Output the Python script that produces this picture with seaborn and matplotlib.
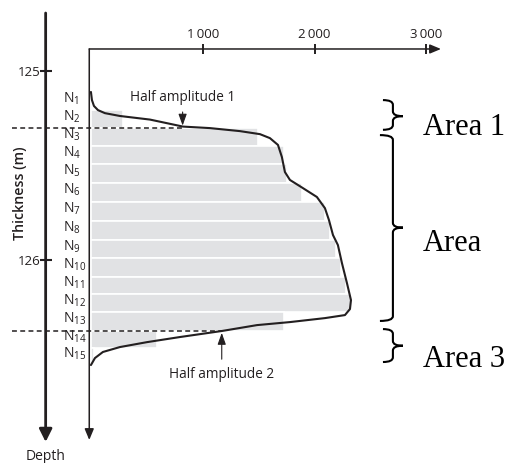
import matplotlib
matplotlib.use("Agg")
import matplotlib.pyplot as plt
from matplotlib.path import Path
from matplotlib.patches import PathPatch
import numpy as np
import seaborn as sns

# layers N1..N15: boundaries in depth (m) and bar amplitude
layer_labels = ["N$_{1}$", "N$_{2}$", "N$_{3}$", "N$_{4}$", "N$_{5}$", "N$_{6}$", "N$_{7}$", "N$_{8}$",
                "N$_{9}$", "N$_{10}$", "N$_{11}$", "N$_{12}$", "N$_{13}$", "N$_{14}$", "N$_{15}$"]
layer_edges = [125.11, 125.208, 125.303, 125.398, 125.493, 125.593, 125.694, 125.794,
               125.894, 125.989, 126.09, 126.18, 126.275, 126.375, 126.465, 126.555]
layer_amp = [10, 290, 1490, 1730, 1750, 1890, 2090, 2140, 2190, 2240, 2280, 2330, 1730, 590, 30]

# smooth amplitude envelope
curve_amp = [0, 9, 27, 63, 125, 259, 528, 823, 1064, 1333, 1512, 1601, 1673, 1708, 1735, 1780,
             1896, 2021, 2093, 2129, 2165, 2209, 2245, 2290, 2326, 2317, 2272, 2093, 1780, 1485,
             1172, 796, 501, 259, 107, 36, 0]
curve_depth = [125.112, 125.155, 125.186, 125.208, 125.224, 125.239, 125.258, 125.295, 125.303,
               125.319, 125.335, 125.356, 125.392, 125.456, 125.535, 125.577, 125.620, 125.667,
               125.726, 125.789, 125.868, 125.921, 126.016, 126.122, 126.212, 126.259, 126.291,
               126.307, 126.328, 126.344, 126.375, 126.407, 126.434, 126.460, 126.486, 126.518,
               126.555]

amp_ticks = [1000, 2000, 3000]
amp_tick_labels = ["1\u2009000", "2\u2009000", "3\u2009000"]
depth_ticks = [125, 126]

half_amp_labels = ["Half amplitude 1", "Half amplitude 2"]
half_amp_x = [820, 1170]
half_amp_depth = [125.303, 126.375]
half_amp_tip = [125.29, 126.385]
half_amp_text = [125.139, 126.603]

area_labels = ["Area 1", "Area", "Area 3"]
area_top = [125.155, 125.340, 126.365]
area_bottom = [125.312, 126.322, 126.539]
area_mid = [125.240, 125.829, 126.453]
area_baseline = [125.340, 125.952, 126.565]

INK = "#231f20"
GRAY = "#e1e2e4"

sns.set_style("white")
plt.rcParams["font.family"] = ["Open Sans", "DejaVu Sans"]
plt.rcParams["mathtext.default"] = "regular"

fig = plt.figure(figsize=(5.13, 4.63), dpi=100)
ax = fig.add_axes([0.174, 0.0497, 0.6856, 0.8445])

# bars
ax.barh(layer_edges[:-1], layer_amp, height=np.diff(layer_edges), align="edge",
        color=GRAY, edgecolor="white", linewidth=1.2, zorder=1)

# envelope curve
sns.lineplot(x=curve_amp, y=curve_depth, sort=False, estimator=None, ax=ax,
             color=INK, linewidth=1.5, zorder=3)

ax.set_xlim(-15, 3131)
ax.set_ylim(126.951, 124.885)
ax.set_xlabel("")
ax.set_ylabel("")

for s in ax.spines.values():
    s.set_visible(False)

# top amplitude axis
ax.xaxis.tick_top()
ax.set_xticks(amp_ticks)
ax.set_xticklabels(amp_tick_labels)
ax.tick_params(axis="x", top=True, bottom=False, direction="inout", length=7, width=1.4, pad=2,
               labelsize=9.5, color=INK, labelcolor=INK)

# outer depth axis
ax.spines["left"].set_position(("axes", -0.124))
ax.set_yticks(depth_ticks)
ax.set_yticklabels([str(t) for t in depth_ticks])
ax.tick_params(axis="y", left=True, right=False, direction="inout", length=8, width=1.5, pad=0,
               labelsize=9.5, color=INK, labelcolor=INK)

head = "-|>,head_length=0.6,head_width=0.25"
ax.annotate("", xy=(1, 1), xytext=(0, 1), xycoords="axes fraction",
            arrowprops=dict(arrowstyle=head, color=INK, lw=1.1, shrinkA=0, shrinkB=0,
                            mutation_scale=11), zorder=5)
ax.annotate("", xy=(0, 0), xytext=(0, 1), xycoords="axes fraction",
            arrowprops=dict(arrowstyle=head, color=INK, lw=1.1, shrinkA=0, shrinkB=0,
                            mutation_scale=11), zorder=5)
ax.annotate("", xy=(-0.124, -0.005), xytext=(-0.124, 1.092), xycoords="axes fraction",
            arrowprops=dict(arrowstyle="-|>,head_length=0.7,head_width=0.35", color=INK,
                            lw=2.0, shrinkA=0, shrinkB=0, mutation_scale=11),
            annotation_clip=False, zorder=5)

# layer labels
tr = ax.get_yaxis_transform()
for lab, top, bot in zip(layer_labels, layer_edges[:-1], layer_edges[1:]):
    ax.text(-0.0748, (top + bot) / 2 - 0.012, lab, transform=tr, ha="left", va="center",
            fontsize=10, color=INK)

# half amplitude lines and arrows
for lab, x, d, tip, txt in zip(half_amp_labels, half_amp_x, half_amp_depth, half_amp_tip, half_amp_text):
    ax.plot([-705, x], [d, d], ls=(0, (3.2, 2.2)), lw=1.1, color=INK, clip_on=False, zorder=2)
    ax.annotate(lab, xy=(x, tip), xytext=(x, txt), ha="center", va="center", fontsize=9.8,
                color=INK, zorder=4,
                arrowprops=dict(arrowstyle="-|>,head_length=0.7,head_width=0.25",
                                color=INK, lw=0.8, shrinkA=3, shrinkB=0, mutation_scale=10))

# braces and area labels
x_stem, x_tip = 2701, 2791
for lab, top, bot, mid, base in zip(area_labels, area_top, area_bottom, area_mid, area_baseline):
    hook = 2585 if bot - top > 0.5 else 2612
    r = 0.025
    verts = [(hook, top), (x_stem, top), (x_stem, top + r),
             (x_stem, mid - r), (x_stem, mid), (x_tip, mid),
             (x_stem, mid), (x_stem, mid + r),
             (x_stem, bot - r), (x_stem, bot), (hook, bot)]
    codes = [Path.MOVETO, Path.CURVE3, Path.CURVE3,
             Path.LINETO, Path.CURVE3, Path.CURVE3,
             Path.CURVE3, Path.CURVE3,
             Path.LINETO, Path.CURVE3, Path.CURVE3]
    ax.add_patch(PathPatch(Path(verts, codes), fill=False, lw=1.5, edgecolor="black",
                           clip_on=False, zorder=4))
    ax.text(2970, base, lab, ha="left", va="baseline", fontsize=22,
            family="Liberation Serif", color="black")

fig.text(20 / 513, 1 - 193 / 463, "Thickness (m)", rotation=90, ha="center", va="center",
         fontsize=10.2, fontweight="semibold", color=INK)
fig.text(46 / 513, 1 - 457 / 463, "Depth", ha="center", va="center", fontsize=10, color=INK)

fig.savefig("out.png", dpi=100)
